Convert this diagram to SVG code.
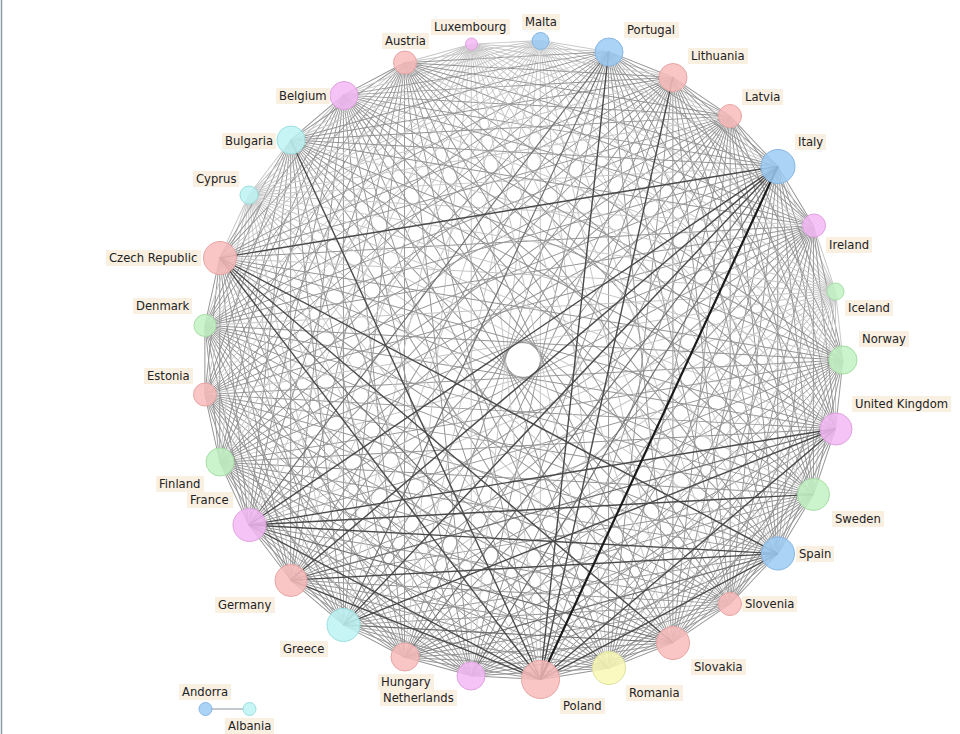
<svg xmlns="http://www.w3.org/2000/svg" width="960" height="734" viewBox="0 0 960 734">
<style>
.E{stroke:#949494;stroke-width:0.95;fill:none}
.l{stroke:#c6c6c6}
.m{stroke:#6e6e6e;stroke-width:1.15}
.d{stroke:#4a4a4a;stroke-width:1.4}
.x{stroke:#1a1a1a;stroke-width:2.2}
.nd circle{fill-opacity:0.85;stroke-width:1}
.lb{fill:#faf0e2}
text{font-family:"DejaVu Sans","Liberation Sans",sans-serif;font-size:11.6px;fill:#222}
.pk{fill:#f9bcbb;stroke:#e6a6a5}
.mg{fill:#f5b8f5;stroke:#e0a2e0}
.bl{fill:#9ccbf5;stroke:#86b6e4}
.cy{fill:#bdf3f3;stroke:#9cdede}
.gr{fill:#c3f2c3;stroke:#a6dea6}
.ye{fill:#f9f9b5;stroke:#e0e09c}
</style>
<defs>
<line id="c1" x1="523" y1="40" x2="591.79" y2="47.48"/>
<line id="c2" x1="523" y1="40" x2="657.36" y2="69.57"/>
<line id="c3" x1="523" y1="40" x2="716.65" y2="105.25"/>
<line id="c4" x1="523" y1="40" x2="766.89" y2="152.83"/>
<line id="c5" x1="523" y1="40" x2="805.73" y2="210.11"/>
<line id="c6" x1="523" y1="40" x2="831.34" y2="274.39"/>
<line id="c7" x1="523" y1="40" x2="842.53" y2="342.68"/>
<line id="c8" x1="523" y1="40" x2="838.79" y2="411.77"/>
<line id="c9" x1="523" y1="40" x2="820.27" y2="478.45"/>
<line id="c10" x1="523" y1="40" x2="787.86" y2="539.57"/>
<line id="c11" x1="523" y1="40" x2="743.06" y2="592.32"/>
<line id="c12" x1="523" y1="40" x2="687.98" y2="634.2"/>
<line id="c13" x1="523" y1="40" x2="625.18" y2="663.25"/>
<line id="c14" x1="523" y1="40" x2="557.6" y2="678.12"/>
</defs>
<line x1="1.5" y1="0" x2="1.5" y2="734" stroke="#8d9aa6" stroke-width="1.5"/>
<g id="connectors" class="E">
<g class="l" transform="rotate(3.1 523 360)"><use href="#c1"/><use href="#c2"/><use href="#c3"/><use href="#c4"/><use href="#c5"/><use href="#c6"/><use href="#c7"/><use href="#c8"/><use href="#c9"/><use href="#c10"/><use href="#c11"/><use href="#c12"/><use href="#c13"/><use href="#c14"/></g>
<g transform="rotate(15.514 523 360)"><use href="#c1"/><use href="#c2"/><use href="#c3"/><use href="#c4"/><use class="l" href="#c5"/><use href="#c6"/><use href="#c7"/><use href="#c8"/><use href="#c9"/><use href="#c10"/><use href="#c11"/><use href="#c12"/><use href="#c14"/></g>
<g transform="rotate(27.928 523 360)"><use href="#c1"/><use href="#c2"/><use href="#c3"/><use class="l" href="#c4"/><use href="#c5"/><use href="#c6"/><use href="#c7"/><use href="#c8"/><use href="#c9"/><use href="#c10"/><use href="#c11"/><use href="#c13"/><use href="#c14"/></g>
<g transform="rotate(40.341 523 360)"><use href="#c1"/><use href="#c2"/><use class="l" href="#c3"/><use href="#c4"/><use href="#c5"/><use href="#c6"/><use href="#c7"/><use href="#c8"/><use href="#c9"/><use href="#c10"/><use href="#c11"/><use href="#c12"/><use href="#c13"/><use href="#c14"/></g>
<g transform="rotate(52.755 523 360)"><use href="#c1"/><use class="l" href="#c2"/><use href="#c3"/><use href="#c4"/><use href="#c5"/><use href="#c6"/><use href="#c7"/><use href="#c8"/><use href="#c9"/></g>
<g transform="rotate(65.169 523 360)"><use class="l" href="#c1"/><use href="#c2"/><use href="#c3"/><use href="#c4"/><use href="#c5"/><use href="#c6"/><use href="#c7"/><use href="#c8"/><use href="#c9"/><use href="#c10"/><use href="#c11"/><use href="#c12"/><use href="#c13"/><use href="#c14"/></g>
<g class="l" transform="rotate(77.583 523 360)"><use href="#c1"/><use href="#c2"/><use href="#c3"/><use href="#c4"/><use href="#c5"/><use href="#c6"/><use href="#c7"/><use href="#c8"/><use href="#c9"/><use href="#c10"/><use href="#c11"/><use href="#c12"/><use href="#c13"/><use href="#c14"/></g>
<g transform="rotate(90 523 360)"><use href="#c1"/><use href="#c2"/><use href="#c3"/><use href="#c4"/><use href="#c5"/><use href="#c6"/><use href="#c7"/><use href="#c8"/><use href="#c9"/><use href="#c10"/><use href="#c11"/><use href="#c12"/><use href="#c13"/><use href="#c14"/></g>
<g transform="rotate(102.41 523 360)"><use href="#c1"/><use href="#c2"/><use href="#c3"/><use href="#c4"/><use href="#c5"/><use href="#c7"/><use href="#c8"/><use href="#c12"/><use href="#c13"/><use href="#c14"/></g>
<g transform="rotate(114.824 523 360)"><use href="#c1"/><use href="#c2"/><use href="#c3"/><use href="#c4"/><use href="#c5"/><use href="#c6"/><use href="#c7"/><use href="#c8"/><use href="#c9"/><use href="#c11"/><use href="#c12"/><use href="#c13"/><use href="#c14"/></g>
<g transform="rotate(127.238 523 360)"><use href="#c1"/><use href="#c2"/><use href="#c3"/><use href="#c5"/><use href="#c7"/><use href="#c10"/><use href="#c11"/><use href="#c12"/><use class="l" href="#c14"/></g>
<g transform="rotate(139.652 523 360)"><use href="#c1"/><use href="#c2"/><use href="#c3"/><use href="#c4"/><use href="#c5"/><use href="#c6"/><use href="#c7"/><use href="#c8"/><use href="#c9"/><use href="#c10"/><use href="#c11"/><use href="#c12"/><use class="l" href="#c13"/><use href="#c14"/></g>
<g transform="rotate(152.066 523 360)"><use href="#c1"/><use href="#c2"/><use href="#c3"/><use href="#c4"/><use href="#c6"/><use href="#c8"/><use href="#c9"/><use href="#c10"/><use class="l" href="#c12"/><use href="#c13"/><use href="#c14"/></g>
<g transform="rotate(164.479 523 360)"><use href="#c1"/><use href="#c2"/><use href="#c3"/><use href="#c4"/><use href="#c5"/><use href="#c6"/><use href="#c7"/><use href="#c8"/><use href="#c9"/><use class="l" href="#c11"/><use href="#c12"/><use href="#c13"/><use href="#c14"/></g>
<g transform="rotate(176.893 523 360)"><use href="#c1"/><use href="#c2"/><use href="#c3"/><use href="#c6"/><use href="#c7"/><use href="#c8"/><use class="l" href="#c10"/><use href="#c12"/><use href="#c13"/><use class="l" href="#c14"/></g>
<g transform="rotate(189.307 523 360)"><use href="#c1"/><use href="#c2"/><use href="#c3"/><use href="#c4"/><use href="#c5"/><use href="#c6"/><use href="#c7"/><use href="#c8"/><use class="l" href="#c9"/><use href="#c10"/><use href="#c11"/><use href="#c12"/><use class="l" href="#c13"/><use class="l" href="#c14"/></g>
<g transform="rotate(201.721 523 360)"><use href="#c1"/><use href="#c2"/><use href="#c3"/><use href="#c4"/><use href="#c5"/><use href="#c6"/><use href="#c7"/><use class="l" href="#c8"/><use href="#c9"/><use href="#c10"/><use href="#c11"/><use class="l" href="#c12"/><use class="l" href="#c13"/><use href="#c14"/></g>
<g transform="rotate(214.134 523 360)"><use href="#c1"/><use href="#c2"/><use href="#c3"/><use href="#c4"/><use href="#c5"/><use href="#c6"/><use class="l" href="#c7"/><use href="#c8"/><use href="#c9"/><use href="#c10"/><use class="l" href="#c11"/><use class="l" href="#c12"/><use href="#c14"/></g>
<g transform="rotate(226.548 523 360)"><use href="#c1"/><use href="#c2"/><use href="#c3"/><use href="#c4"/><use href="#c5"/><use class="l" href="#c6"/><use href="#c7"/><use href="#c8"/><use href="#c9"/><use class="l" href="#c10"/><use class="l" href="#c11"/><use href="#c12"/><use href="#c13"/><use href="#c14"/></g>
<g transform="rotate(238.962 523 360)"><use href="#c1"/><use href="#c2"/><use href="#c3"/><use href="#c4"/><use class="l" href="#c5"/><use href="#c6"/><use href="#c7"/><use href="#c8"/><use class="l" href="#c9"/><use class="l" href="#c10"/><use href="#c12"/><use href="#c13"/></g>
<g transform="rotate(251.376 523 360)"><use href="#c1"/><use href="#c2"/><use href="#c3"/><use class="l" href="#c4"/><use href="#c5"/><use href="#c6"/><use href="#c7"/><use class="l" href="#c8"/><use class="l" href="#c9"/><use href="#c10"/><use href="#c11"/><use href="#c12"/><use href="#c13"/><use href="#c14"/></g>
<g transform="rotate(263.79 523 360)"><use href="#c1"/><use href="#c2"/><use class="l" href="#c3"/><use href="#c4"/><use href="#c5"/><use href="#c6"/><use class="l" href="#c7"/><use class="l" href="#c8"/><use href="#c9"/><use href="#c10"/><use href="#c11"/><use href="#c12"/><use href="#c13"/><use class="l" href="#c14"/></g>
<g transform="rotate(276.203 523 360)"><use href="#c1"/><use class="l" href="#c2"/><use href="#c3"/><use href="#c4"/><use href="#c5"/><use class="l" href="#c6"/><use class="l" href="#c7"/><use href="#c8"/><use href="#c9"/><use href="#c10"/><use href="#c11"/><use href="#c12"/><use class="l" href="#c13"/><use href="#c14"/></g>
<g transform="rotate(288.617 523 360)"><use class="l" href="#c1"/><use href="#c2"/><use href="#c3"/><use href="#c4"/><use class="l" href="#c5"/><use class="l" href="#c6"/><use href="#c7"/><use href="#c8"/><use href="#c9"/><use href="#c11"/><use class="l" href="#c12"/><use href="#c13"/><use href="#c14"/></g>
<g class="l" transform="rotate(301.031 523 360)"><use href="#c1"/><use href="#c2"/><use href="#c3"/><use href="#c4"/><use href="#c5"/><use href="#c6"/><use href="#c7"/><use href="#c8"/><use href="#c9"/><use href="#c10"/><use href="#c11"/><use href="#c12"/><use href="#c13"/><use href="#c14"/></g>
<g transform="rotate(313.445 523 360)"><use href="#c1"/><use href="#c2"/><use class="l" href="#c3"/><use class="l" href="#c4"/><use href="#c5"/><use href="#c6"/><use href="#c7"/><use href="#c8"/><use href="#c9"/><use class="l" href="#c10"/><use href="#c11"/><use href="#c12"/><use href="#c13"/><use href="#c14"/></g>
<g transform="rotate(325.859 523 360)"><use href="#c1"/><use class="l" href="#c2"/><use class="l" href="#c3"/><use href="#c4"/><use href="#c5"/><use href="#c6"/><use href="#c7"/><use href="#c8"/><use class="l" href="#c9"/><use href="#c10"/><use href="#c11"/><use href="#c12"/><use href="#c13"/><use href="#c14"/></g>
<g transform="rotate(338.272 523 360)"><use class="l" href="#c1"/><use class="l" href="#c2"/><use href="#c3"/><use href="#c4"/><use href="#c5"/><use href="#c6"/><use href="#c7"/><use class="l" href="#c8"/><use href="#c9"/><use href="#c10"/><use href="#c11"/><use href="#c12"/><use href="#c13"/><use href="#c14"/></g>
<g class="l" transform="rotate(350.686 523 360)"><use href="#c1"/><use href="#c2"/><use href="#c3"/><use href="#c4"/><use href="#c5"/><use href="#c6"/><use href="#c7"/><use href="#c8"/><use href="#c9"/><use href="#c10"/><use href="#c11"/><use href="#c12"/><use href="#c13"/><use href="#c14"/></g>
<g class="m">
<use href="#c11" transform="rotate(52.755 523 360)"/>
<use href="#c12" transform="rotate(52.755 523 360)"/>
<use href="#c10" transform="rotate(102.41 523 360)"/>
<use href="#c6" transform="rotate(127.238 523 360)"/>
<use href="#c5" transform="rotate(152.066 523 360)"/>
<use href="#c7" transform="rotate(152.066 523 360)"/>
<use href="#c10" transform="rotate(164.479 523 360)"/>
<use href="#c13" transform="rotate(214.134 523 360)"/>
<use href="#c11" transform="rotate(238.962 523 360)"/>
</g>
<g class="d">
<use href="#c13" transform="rotate(15.514 523 360)"/>
<use href="#c12" transform="rotate(27.928 523 360)"/>
<use href="#c13" transform="rotate(52.755 523 360)"/>
<use href="#c14" transform="rotate(52.755 523 360)"/>
<use href="#c6" transform="rotate(102.41 523 360)"/>
<use href="#c9" transform="rotate(102.41 523 360)"/>
<use href="#c11" transform="rotate(102.41 523 360)"/>
<use href="#c10" transform="rotate(114.824 523 360)"/>
<use href="#c4" transform="rotate(127.238 523 360)"/>
<use href="#c8" transform="rotate(127.238 523 360)"/>
<use href="#c9" transform="rotate(127.238 523 360)"/>
<use href="#c13" transform="rotate(127.238 523 360)"/>
<use href="#c11" transform="rotate(152.066 523 360)"/>
<use href="#c4" transform="rotate(176.893 523 360)"/>
<use href="#c5" transform="rotate(176.893 523 360)"/>
<use href="#c9" transform="rotate(176.893 523 360)"/>
<use href="#c11" transform="rotate(176.893 523 360)"/>
<use href="#c14" transform="rotate(238.962 523 360)"/>
<use href="#c10" transform="rotate(288.617 523 360)"/>
</g>
<use class="x" href="#c10" transform="rotate(52.755 523 360)"/>
<line x1="211.5" y1="709" x2="243" y2="709" stroke="#9aa4ae" stroke-width="1.2"/>
</g>
<g id="n-malta" class="nd"><circle class="bl" cx="540.5" cy="41" r="8.5"/><rect class="lb" x="522" y="14" width="38" height="16"/><text x="525" y="26">Malta</text></g>
<g id="n-portugal" class="nd"><circle class="bl" cx="609" cy="52" r="14"/><rect class="lb" x="624" y="22" width="55" height="16"/><text x="627" y="34">Portugal</text></g>
<g id="n-lithuania" class="nd"><circle class="pk" cx="673" cy="77.5" r="14"/><rect class="lb" x="688" y="48" width="60" height="16"/><text x="691" y="60">Lithuania</text></g>
<g id="n-latvia" class="nd"><circle class="pk" cx="730" cy="116" r="11.5"/><rect class="lb" x="742" y="89" width="41" height="16"/><text x="745" y="101">Latvia</text></g>
<g id="n-italy" class="nd"><circle class="bl" cx="778" cy="166.5" r="17"/><rect class="lb" x="795" y="134" width="31" height="16"/><text x="798" y="146">Italy</text></g>
<g id="n-ireland" class="nd"><circle class="mg" cx="814" cy="225.5" r="11.5"/><rect class="lb" x="826" y="237" width="46" height="16"/><text x="829" y="249">Ireland</text></g>
<g id="n-iceland" class="nd"><circle class="gr" cx="835.5" cy="291.5" r="8.5"/><rect class="lb" x="845" y="300" width="48" height="16"/><text x="848" y="312">Iceland</text></g>
<g id="n-norway" class="nd"><circle class="gr" cx="843" cy="360" r="14"/><rect class="lb" x="859" y="331" width="50" height="16"/><text x="862" y="343">Norway</text></g>
<g id="n-uk" class="nd"><circle class="mg" cx="836" cy="429" r="16"/><rect class="lb" x="852" y="396" width="99" height="16"/><text x="855" y="408">United Kingdom</text></g>
<g id="n-sweden" class="nd"><circle class="gr" cx="813.5" cy="494.5" r="16"/><rect class="lb" x="832" y="511" width="52" height="16"/><text x="835" y="523">Sweden</text></g>
<g id="n-spain" class="nd"><circle class="bl" cx="778" cy="553.5" r="16.5"/><rect class="lb" x="796" y="546" width="38" height="16"/><text x="799" y="558">Spain</text></g>
<g id="n-slovenia" class="nd"><circle class="pk" cx="730" cy="604" r="11.5"/><rect class="lb" x="742" y="596" width="55" height="16"/><text x="745" y="608">Slovenia</text></g>
<g id="n-slovakia" class="nd"><circle class="pk" cx="673" cy="643" r="16.5"/><rect class="lb" x="691" y="659" width="55" height="16"/><text x="694" y="671">Slovakia</text></g>
<g id="n-romania" class="nd"><circle class="ye" cx="609" cy="668" r="16.5"/><rect class="lb" x="626" y="685" width="57" height="16"/><text x="629" y="697">Romania</text></g>
<g id="n-poland" class="nd"><circle class="pk" cx="540.5" cy="679.5" r="19"/><rect class="lb" x="560" y="698" width="45" height="16"/><text x="563" y="710">Poland</text></g>
<g id="n-netherlands" class="nd"><circle class="mg" cx="471" cy="676" r="14"/><rect class="lb" x="380" y="690" width="77" height="16"/><text x="383" y="702">Netherlands</text></g>
<g id="n-hungary" class="nd"><circle class="pk" cx="405" cy="657" r="14"/><rect class="lb" x="378" y="674" width="56" height="16"/><text x="381" y="686">Hungary</text></g>
<g id="n-greece" class="nd"><circle class="cy" cx="343.5" cy="625" r="16.5"/><rect class="lb" x="280" y="641" width="48" height="16"/><text x="283" y="653">Greece</text></g>
<g id="n-germany" class="nd"><circle class="pk" cx="291" cy="580.5" r="16"/><rect class="lb" x="215" y="597" width="60" height="16"/><text x="218" y="609">Germany</text></g>
<g id="n-france" class="nd"><circle class="mg" cx="249.5" cy="525" r="16.5"/><rect class="lb" x="187" y="492" width="46" height="16"/><text x="190" y="504">France</text></g>
<g id="n-finland" class="nd"><circle class="gr" cx="220" cy="462" r="14"/><rect class="lb" x="156" y="476" width="48" height="16"/><text x="159" y="488">Finland</text></g>
<g id="n-estonia" class="nd"><circle class="pk" cx="205" cy="394.5" r="11.5"/><rect class="lb" x="144" y="368" width="49" height="16"/><text x="147" y="380">Estonia</text></g>
<g id="n-denmark" class="nd"><circle class="gr" cx="205" cy="325.5" r="11"/><rect class="lb" x="133" y="298" width="59" height="16"/><text x="136" y="310">Denmark</text></g>
<g id="n-czech" class="nd"><circle class="pk" cx="220" cy="258" r="16.5"/><rect class="lb" x="106" y="250" width="95" height="16"/><text x="109" y="262">Czech Republic</text></g>
<g id="n-cyprus" class="nd"><circle class="cy" cx="249" cy="195" r="9"/><rect class="lb" x="193" y="171" width="46" height="16"/><text x="196" y="183">Cyprus</text></g>
<g id="n-bulgaria" class="nd"><circle class="cy" cx="291" cy="140" r="14"/><rect class="lb" x="222" y="133" width="54" height="16"/><text x="225" y="145">Bulgaria</text></g>
<g id="n-belgium" class="nd"><circle class="mg" cx="344" cy="95.5" r="14"/><rect class="lb" x="276" y="88" width="54" height="16"/><text x="279" y="100">Belgium</text></g>
<g id="n-austria" class="nd"><circle class="pk" cx="405" cy="62.5" r="11.5"/><rect class="lb" x="382" y="33" width="47" height="16"/><text x="385" y="45">Austria</text></g>
<g id="n-luxembourg" class="nd"><circle class="mg" cx="471.5" cy="44" r="6"/><rect class="lb" x="431" y="19" width="79" height="16"/><text x="434" y="31">Luxembourg</text></g>
<g id="n-andorra" class="nd"><circle class="bl" cx="205.5" cy="709" r="6.5"/><rect class="lb" x="179" y="684" width="52" height="16"/><text x="182" y="696">Andorra</text></g>
<g id="n-albania" class="nd"><circle class="cy" cx="249.5" cy="709" r="6.5"/><rect class="lb" x="225" y="718" width="49" height="16"/><text x="228" y="730">Albania</text></g>
</svg>
